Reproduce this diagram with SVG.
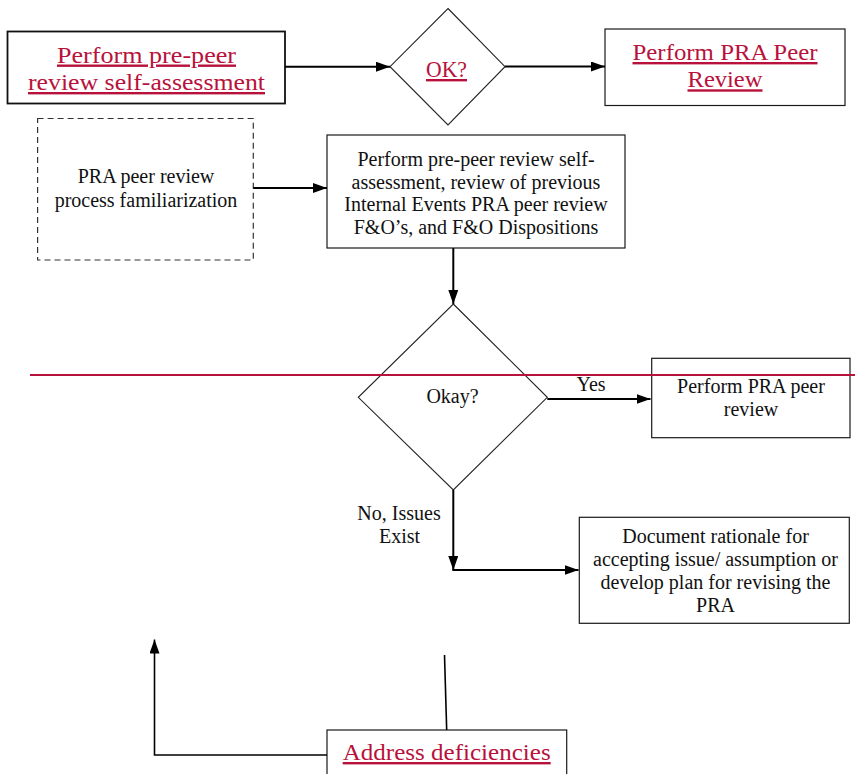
<svg xmlns="http://www.w3.org/2000/svg" width="855" height="774" viewBox="0 0 855 774">
<style>
  .box{fill:#fff;stroke:#1a1a1a;stroke-width:1.2}
  .boxb{fill:#fff;stroke:#111;stroke-width:1.8}
  .dash{fill:#fff;stroke:#333;stroke-width:1.2;stroke-dasharray:6,4}
  .dia{fill:#fff;stroke:#222;stroke-width:1.1}
  text{font-family:"Liberation Serif","Times New Roman",Times,serif}
  .t{font-size:20px;fill:#111;text-anchor:middle}
  .r{font-size:24px;fill:#b8123c;text-anchor:middle;text-decoration:underline}
  .c{fill:none;stroke:#000;stroke-width:2}
  .c1{fill:none;stroke:#000;stroke-width:1.6}
</style>
<defs>
  <marker id="ah" viewBox="0 0 14 10" refX="14" refY="5" markerWidth="14" markerHeight="10" markerUnits="userSpaceOnUse" orient="auto">
    <path d="M0,0 L14,5 L0,10 z" fill="#000"/>
  </marker>
</defs>
<rect width="855" height="774" fill="#fff"/>

<g id="n-self-assess-link">
  <rect class="boxb" x="7.5" y="31.5" width="277.5" height="72"/>
  <text class="r" x="146.5" y="62.5" textLength="179" lengthAdjust="spacingAndGlyphs">Perform pre-peer</text>
  <text class="r" x="146.5" y="90" textLength="237" lengthAdjust="spacingAndGlyphs">review self-assessment</text>
</g>

<g id="n-ok">
  <polygon class="dia" points="448,8.5 505,66.7 448,125 390,66.7"/>
  <text class="r" x="446.5" y="77" textLength="41" lengthAdjust="spacingAndGlyphs">OK?</text>
</g>

<g id="n-pra-peer-review-link">
  <rect class="box" x="605" y="29" width="240" height="76.5"/>
  <text class="r" x="725" y="60" textLength="185" lengthAdjust="spacingAndGlyphs">Perform PRA Peer</text>
  <text class="r" x="725" y="87.3" textLength="75" lengthAdjust="spacingAndGlyphs">Review</text>
</g>

<g id="n-familiarization">
  <rect class="dash" x="37.6" y="118.5" width="215.7" height="141.5"/>
  <text class="t" x="146" y="183">PRA peer review</text>
  <text class="t" x="146" y="206.7">process familiarization</text>
</g>

<g id="n-self-assessment">
  <rect class="box" x="327" y="135" width="298" height="113"/>
  <text class="t" x="476" y="166">Perform pre-peer review self-</text>
  <text class="t" x="476" y="188.5">assessment, review of previous</text>
  <text class="t" x="476" y="211">Internal Events PRA peer review</text>
  <text class="t" x="476" y="233.5">F&amp;O’s, and F&amp;O Dispositions</text>
</g>

<g id="n-okay">
  <polygon class="dia" points="453.3,304 547.3,397.3 453.3,490 358.3,397.3"/>
  <text class="t" x="452.5" y="403.3">Okay?</text>
</g>

<g id="n-perform-pra">
  <rect class="box" x="651.7" y="358.3" width="198.3" height="79.4"/>
  <text class="t" x="751" y="393">Perform PRA peer</text>
  <text class="t" x="751" y="416">review</text>
</g>

<g id="n-document">
  <rect class="box" x="579.3" y="517.3" width="270" height="106"/>
  <text class="t" x="715.5" y="543">Document rationale for</text>
  <text class="t" x="715.5" y="566">accepting issue/ assumption or</text>
  <text class="t" x="715.5" y="589">develop plan for revising the</text>
  <text class="t" x="715.5" y="612">PRA</text>
</g>

<g id="n-address">
  <rect class="box" x="327" y="730" width="239.7" height="50"/>
  <text class="r" x="446.7" y="760" textLength="208" lengthAdjust="spacingAndGlyphs">Address deficiencies</text>
</g>

<g id="divider">
  <line x1="30" y1="375" x2="855" y2="375" stroke="#b8123c" stroke-width="2"/>
</g>

<g id="connectors">
  <line class="c" x1="285" y1="66.7" x2="390" y2="66.7" marker-end="url(#ah)"/>
  <line class="c" x1="505" y1="66.5" x2="605" y2="66.5" marker-end="url(#ah)"/>
  <line class="c" x1="253.3" y1="188" x2="327" y2="188" marker-end="url(#ah)"/>
  <line class="c" x1="453.3" y1="248" x2="453.3" y2="304" marker-end="url(#ah)"/>
  <line class="c" x1="547.3" y1="399" x2="650.5" y2="399" marker-end="url(#ah)"/>
  <text class="t" x="591" y="390.5">Yes</text>
  <line class="c" x1="453.3" y1="490" x2="453.3" y2="570" marker-end="url(#ah)"/>
  <line class="c" x1="452.3" y1="570" x2="578.5" y2="570" marker-end="url(#ah)"/>
  <text class="t" x="399" y="520">No, Issues</text>
  <text class="t" x="399.5" y="543.3">Exist</text>
  <line class="c1" x1="444.5" y1="655" x2="446.7" y2="730"/>
  <polyline class="c1" points="327,755 154.5,755 154.5,639.5" marker-end="url(#ah)"/>
</g>
</svg>
